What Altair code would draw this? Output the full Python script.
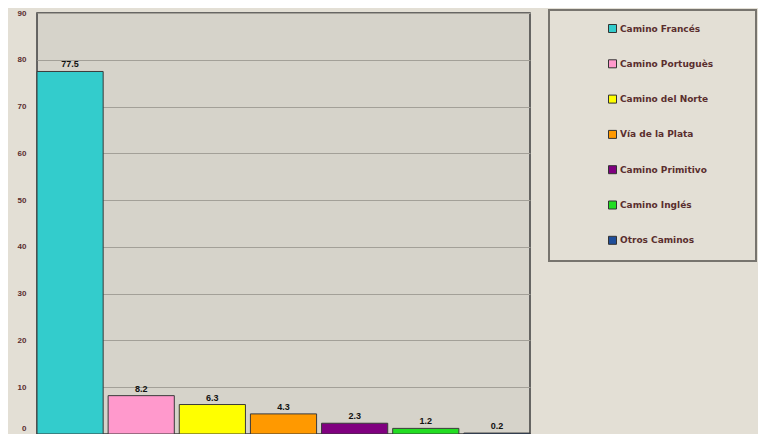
import altair as alt
import pandas as pd

caminos = ["Camino Francés", "Camino Portuguès", "Camino del Norte", "Vía de la Plata",
           "Camino Primitivo", "Camino Inglés", "Otros Caminos"]
porcentajes = [77.5, 8.2, 6.3, 4.3, 2.3, 1.2, 0.2]
colores = ["#33CCCC", "#FF99CC", "#FFFF00", "#FF9900", "#800080", "#22DD22", "#1F4E9A"]
y_ticks = [0, 10, 20, 30, 40, 50, 60, 70, 80, 90]

df = pd.DataFrame({"camino": caminos, "pct": porcentajes})

PAGE_BG = "#E3DFD5"
PLOT_BG = "#D6D3CA"
LABEL_COLOR = "#5A2E2E"
FONT = "Liberation Sans"

# invisible trailing filler to widen the legend frame on the right
FILLER = "\u2800" * 4

x_enc = alt.X("camino:N", sort=caminos, axis=None,
              scale=alt.Scale(paddingInner=0.07, paddingOuter=0))
y_scale = alt.Scale(domain=[0, 90], nice=False)

bars = alt.Chart(df).mark_bar(stroke="#3A3A3A", strokeWidth=1).encode(
    x=x_enc,
    y=alt.Y("pct:Q", scale=y_scale,
            axis=alt.Axis(values=y_ticks, title=None, ticks=False, domain=False,
                          labelPadding=11, labelColor=LABEL_COLOR, labelFont=FONT,
                          labelFontSize=8, labelFontWeight="bold",
                          labelBaseline={"condition": {"test": "datum.value == 0",
                                                       "value": "bottom"},
                                         "value": "middle"},
                          labelOffset={"condition": {"test": "datum.value == 0",
                                                     "value": -2},
                                       "value": 0},
                          gridColor="#A3A098", gridWidth=1)),
    color=alt.Color("camino:N", sort=caminos,
                    scale=alt.Scale(domain=caminos, range=colores),
                    legend=alt.Legend(
                        title=None, orient="none", legendX=512, legendY=-3,
                        padding=14, symbolOffset=45, labelOffset=3,
                        rowPadding=22.3, symbolType="square", symbolSize=64,
                        symbolStrokeColor="#333333", symbolStrokeWidth=1,
                        labelFont="DejaVu Sans", labelFontSize=9, labelFontWeight="bold",
                        labelColor=LABEL_COLOR, labelLimit=300,
                        labelExpr="datum.label + '" + FILLER + "'",
                        strokeColor="#77746E", fillColor=PAGE_BG)),
)

labels = alt.Chart(df).mark_text(baseline="bottom", dy=-2, font=FONT, fontSize=9,
                                  fontWeight="bold", color="#111111").encode(
    x=x_enc,
    y=alt.Y("pct:Q", scale=y_scale),
    text=alt.Text("pct:Q", format=".1f"),
)

chart = alt.layer(bars, labels).properties(
    width=493, height=421,
    background=PAGE_BG,
    autosize=alt.AutoSizeParams(type="none"),
    padding={"left": 29, "top": 5, "right": 228, "bottom": 0},
).configure_view(
    fill=PLOT_BG, stroke="#3F3F3F", strokeWidth=1.5
).configure_legend(
    strokeWidth=2
)

chart.save("out.html", embed_options={"renderer": "svg", "actions": False})
